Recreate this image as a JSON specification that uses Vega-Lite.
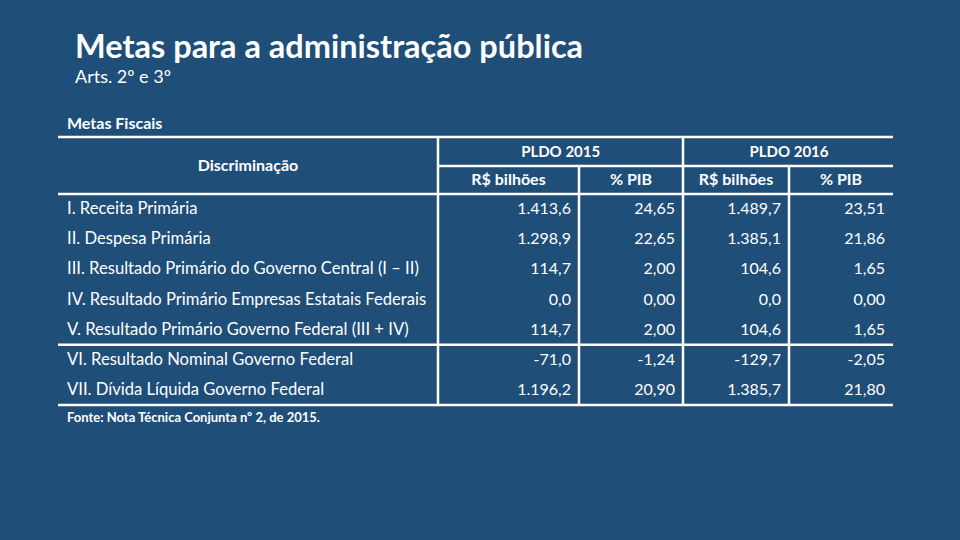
{
  "$schema": "https://vega.github.io/schema/vega-lite/v6.json",
  "width": 960,
  "height": 540,
  "padding": 0,
  "autosize": {"type": "none"},
  "background": "#1f4e79",
  "config": {"view": {"stroke": null}, "text": {"font": "Lato", "color": "#ffffff"}},
  "datasets": {
    "rows": [
      {"n": 1, "item": "I. Receita Primária", "r15": "1.413,6", "p15": "24,65", "r16": "1.489,7", "p16": "23,51"},
      {"n": 2, "item": "II. Despesa Primária", "r15": "1.298,9", "p15": "22,65", "r16": "1.385,1", "p16": "21,86"},
      {"n": 3, "item": "III. Resultado Primário do Governo Central (I – II)", "r15": "114,7", "p15": "2,00", "r16": "104,6", "p16": "1,65"},
      {"n": 4, "item": "IV. Resultado Primário Empresas Estatais Federais", "r15": "0,0", "p15": "0,00", "r16": "0,0", "p16": "0,00"},
      {"n": 5, "item": "V. Resultado Primário Governo Federal (III + IV)", "r15": "114,7", "p15": "2,00", "r16": "104,6", "p16": "1,65"},
      {"n": 6, "item": "VI. Resultado Nominal Governo Federal", "r15": "-71,0", "p15": "-1,24", "r16": "-129,7", "p16": "-2,05"},
      {"n": 7, "item": "VII. Dívida Líquida Governo Federal", "r15": "1.196,2", "p15": "20,90", "r16": "1.385,7", "p16": "21,80"}
    ],
    "grid": [
      {"x": 0, "x2": 5, "y": -1.5, "y2": -1.5},
      {"x": 1, "x2": 5, "y": -0.5, "y2": -0.5},
      {"x": 0, "x2": 5, "y": 0.5, "y2": 0.5},
      {"x": 0, "x2": 5, "y": 5.5, "y2": 5.5},
      {"x": 0, "x2": 5, "y": 7.5, "y2": 7.5},
      {"x": 1, "x2": 1, "y": -1.5, "y2": 7.5},
      {"x": 2, "x2": 2, "y": -0.5, "y2": 7.5},
      {"x": 3, "x2": 3, "y": -1.5, "y2": 7.5},
      {"x": 4, "x2": 4, "y": -0.5, "y2": 7.5}
    ]
  },
  "layer": [
    {
      "data": {"name": "grid"},
      "mark": {"type": "rule", "color": "#ffffff", "strokeWidth": 2.5},
      "encoding": {
        "x": {"field": "x", "type": "quantitative", "scale": {"domain": [0, 1, 2, 3, 4, 5], "range": [58, 438, 579, 683, 789, 893], "zero": false, "nice": false}, "axis": null},
        "x2": {"field": "x2"},
        "y": {"field": "y", "type": "quantitative", "scale": {"domain": [-5, -4, -3, -1.5, -0.5, 0.5, 7.5, 8], "range": [48, 78, 124, 137, 166, 194, 405, 418], "zero": false, "nice": false}, "axis": null},
        "y2": {"field": "y2"}
      }
    },
    {
      "data": {"values": [{}]},
      "mark": {"type": "text", "text": "Metas para a administração pública", "align": "left", "baseline": "middle", "fontSize": 32.5, "fontWeight": "bold", "dx": 17},
      "encoding": {
        "x": {"datum": 0, "type": "quantitative", "scale": {"domain": [0, 1, 2, 3, 4, 5], "range": [58, 438, 579, 683, 789, 893], "zero": false, "nice": false}, "axis": null},
        "y": {"datum": -5, "type": "quantitative", "scale": {"domain": [-5, -4, -3, -1.5, -0.5, 0.5, 7.5, 8], "range": [48, 78, 124, 137, 166, 194, 405, 418], "zero": false, "nice": false}, "axis": null}
      }
    },
    {
      "data": {"values": [{}]},
      "mark": {"type": "text", "text": "Arts. 2º e 3º", "align": "left", "baseline": "middle", "fontSize": 18, "dx": 17},
      "encoding": {
        "x": {"datum": 0, "type": "quantitative", "scale": {"domain": [0, 1, 2, 3, 4, 5], "range": [58, 438, 579, 683, 789, 893], "zero": false, "nice": false}, "axis": null},
        "y": {"datum": -4, "type": "quantitative", "scale": {"domain": [-5, -4, -3, -1.5, -0.5, 0.5, 7.5, 8], "range": [48, 78, 124, 137, 166, 194, 405, 418], "zero": false, "nice": false}, "axis": null}
      }
    },
    {
      "data": {"values": [{}]},
      "mark": {"type": "text", "text": "Metas Fiscais", "align": "left", "baseline": "middle", "fontSize": 16, "fontWeight": "bold", "dx": 9},
      "encoding": {
        "x": {"datum": 0, "type": "quantitative", "scale": {"domain": [0, 1, 2, 3, 4, 5], "range": [58, 438, 579, 683, 789, 893], "zero": false, "nice": false}, "axis": null},
        "y": {"datum": -3, "type": "quantitative", "scale": {"domain": [-5, -4, -3, -1.5, -0.5, 0.5, 7.5, 8], "range": [48, 78, 124, 137, 166, 194, 405, 418], "zero": false, "nice": false}, "axis": null}
      }
    },
    {
      "data": {"values": [{}]},
      "mark": {"type": "text", "text": "Discriminação", "align": "center", "baseline": "middle", "fontSize": 16, "fontWeight": "bold"},
      "encoding": {
        "x": {"datum": 0.5, "type": "quantitative", "scale": {"domain": [0, 1, 2, 3, 4, 5], "range": [58, 438, 579, 683, 789, 893], "zero": false, "nice": false}, "axis": null},
        "y": {"datum": -0.5, "type": "quantitative", "scale": {"domain": [-5, -4, -3, -1.5, -0.5, 0.5, 7.5, 8], "range": [48, 78, 124, 137, 166, 194, 405, 418], "zero": false, "nice": false}, "axis": null}
      }
    },
    {
      "data": {"values": [{}]},
      "mark": {"type": "text", "text": "PLDO 2015", "align": "center", "baseline": "middle", "fontSize": 15, "fontWeight": "bold"},
      "encoding": {
        "x": {"datum": 1.87, "type": "quantitative", "scale": {"domain": [0, 1, 2, 3, 4, 5], "range": [58, 438, 579, 683, 789, 893], "zero": false, "nice": false}, "axis": null},
        "y": {"datum": -1, "type": "quantitative", "scale": {"domain": [-5, -4, -3, -1.5, -0.5, 0.5, 7.5, 8], "range": [48, 78, 124, 137, 166, 194, 405, 418], "zero": false, "nice": false}, "axis": null}
      }
    },
    {
      "data": {"values": [{}]},
      "mark": {"type": "text", "text": "PLDO 2016", "align": "center", "baseline": "middle", "fontSize": 15, "fontWeight": "bold"},
      "encoding": {
        "x": {"datum": 4, "type": "quantitative", "scale": {"domain": [0, 1, 2, 3, 4, 5], "range": [58, 438, 579, 683, 789, 893], "zero": false, "nice": false}, "axis": null},
        "y": {"datum": -1, "type": "quantitative", "scale": {"domain": [-5, -4, -3, -1.5, -0.5, 0.5, 7.5, 8], "range": [48, 78, 124, 137, 166, 194, 405, 418], "zero": false, "nice": false}, "axis": null}
      }
    },
    {
      "data": {"values": [{"h": "R$ bilhões", "c": 1.5}, {"h": "% PIB", "c": 2.5}, {"h": "R$ bilhões", "c": 3.5}, {"h": "% PIB", "c": 4.5}]},
      "mark": {"type": "text", "align": "center", "baseline": "middle", "fontSize": 16, "fontWeight": "bold"},
      "encoding": {
        "text": {"field": "h"},
        "x": {"field": "c", "type": "quantitative", "scale": {"domain": [0, 1, 2, 3, 4, 5], "range": [58, 438, 579, 683, 789, 893], "zero": false, "nice": false}, "axis": null},
        "y": {"datum": 0, "type": "quantitative", "scale": {"domain": [-5, -4, -3, -1.5, -0.5, 0.5, 7.5, 8], "range": [48, 78, 124, 137, 166, 194, 405, 418], "zero": false, "nice": false}, "axis": null}
      }
    },
    {
      "data": {"name": "rows"},
      "mark": {"type": "text", "align": "left", "baseline": "middle", "fontSize": 16.6, "dx": 9},
      "encoding": {
        "text": {"field": "item"},
        "x": {"datum": 0, "type": "quantitative", "scale": {"domain": [0, 1, 2, 3, 4, 5], "range": [58, 438, 579, 683, 789, 893], "zero": false, "nice": false}, "axis": null},
        "y": {"field": "n", "type": "quantitative", "scale": {"domain": [-5, -4, -3, -1.5, -0.5, 0.5, 7.5, 8], "range": [48, 78, 124, 137, 166, 194, 405, 418], "zero": false, "nice": false}, "axis": null}
      }
    },
    {
      "data": {"name": "rows"},
      "mark": {"type": "text", "align": "right", "baseline": "middle", "fontSize": 16, "dx": -8},
      "encoding": {
        "text": {"field": "r15"},
        "x": {"datum": 2, "type": "quantitative", "scale": {"domain": [0, 1, 2, 3, 4, 5], "range": [58, 438, 579, 683, 789, 893], "zero": false, "nice": false}, "axis": null},
        "y": {"field": "n", "type": "quantitative", "scale": {"domain": [-5, -4, -3, -1.5, -0.5, 0.5, 7.5, 8], "range": [48, 78, 124, 137, 166, 194, 405, 418], "zero": false, "nice": false}, "axis": null}
      }
    },
    {
      "data": {"name": "rows"},
      "mark": {"type": "text", "align": "right", "baseline": "middle", "fontSize": 16, "dx": -8},
      "encoding": {
        "text": {"field": "p15"},
        "x": {"datum": 3, "type": "quantitative", "scale": {"domain": [0, 1, 2, 3, 4, 5], "range": [58, 438, 579, 683, 789, 893], "zero": false, "nice": false}, "axis": null},
        "y": {"field": "n", "type": "quantitative", "scale": {"domain": [-5, -4, -3, -1.5, -0.5, 0.5, 7.5, 8], "range": [48, 78, 124, 137, 166, 194, 405, 418], "zero": false, "nice": false}, "axis": null}
      }
    },
    {
      "data": {"name": "rows"},
      "mark": {"type": "text", "align": "right", "baseline": "middle", "fontSize": 16, "dx": -8},
      "encoding": {
        "text": {"field": "r16"},
        "x": {"datum": 4, "type": "quantitative", "scale": {"domain": [0, 1, 2, 3, 4, 5], "range": [58, 438, 579, 683, 789, 893], "zero": false, "nice": false}, "axis": null},
        "y": {"field": "n", "type": "quantitative", "scale": {"domain": [-5, -4, -3, -1.5, -0.5, 0.5, 7.5, 8], "range": [48, 78, 124, 137, 166, 194, 405, 418], "zero": false, "nice": false}, "axis": null}
      }
    },
    {
      "data": {"name": "rows"},
      "mark": {"type": "text", "align": "right", "baseline": "middle", "fontSize": 16, "dx": -8},
      "encoding": {
        "text": {"field": "p16"},
        "x": {"datum": 5, "type": "quantitative", "scale": {"domain": [0, 1, 2, 3, 4, 5], "range": [58, 438, 579, 683, 789, 893], "zero": false, "nice": false}, "axis": null},
        "y": {"field": "n", "type": "quantitative", "scale": {"domain": [-5, -4, -3, -1.5, -0.5, 0.5, 7.5, 8], "range": [48, 78, 124, 137, 166, 194, 405, 418], "zero": false, "nice": false}, "axis": null}
      }
    },
    {
      "data": {"values": [{}]},
      "mark": {"type": "text", "text": "Fonte: Nota Técnica Conjunta nº 2, de 2015.", "align": "left", "baseline": "middle", "fontSize": 13, "fontWeight": "bold", "dx": 9},
      "encoding": {
        "x": {"datum": 0, "type": "quantitative", "scale": {"domain": [0, 1, 2, 3, 4, 5], "range": [58, 438, 579, 683, 789, 893], "zero": false, "nice": false}, "axis": null},
        "y": {"datum": 8, "type": "quantitative", "scale": {"domain": [-5, -4, -3, -1.5, -0.5, 0.5, 7.5, 8], "range": [48, 78, 124, 137, 166, 194, 405, 418], "zero": false, "nice": false}, "axis": null}
      }
    }
  ]
}
